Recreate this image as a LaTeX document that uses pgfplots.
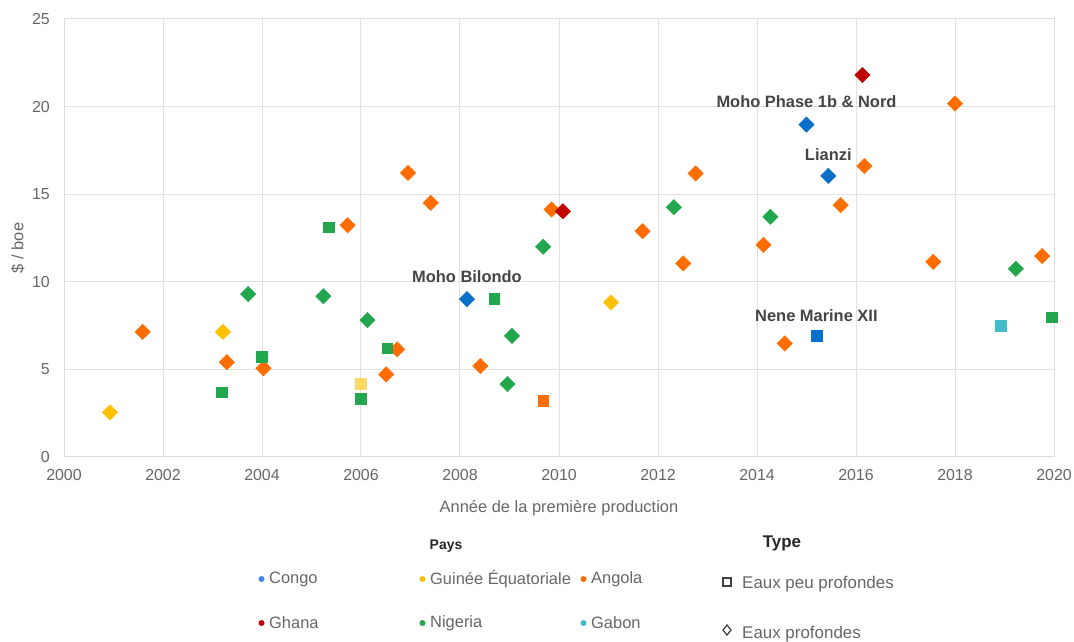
\documentclass[border=0pt]{standalone}
\usepackage{fontspec}
\setmainfont{Liberation Sans}
\usepackage{pgfplots}
\pgfplotsset{compat=1.18}

\definecolor{congo}{HTML}{0A6FC8}
\definecolor{congoL}{HTML}{4285F4}
\definecolor{guinee}{HTML}{FFC000}
\definecolor{guineeL}{HTML}{FFD966}
\definecolor{angola}{HTML}{FF6D01}
\definecolor{ghana}{HTML}{C00000}
\definecolor{nigeria}{HTML}{22A64E}
\definecolor{gabon}{HTML}{3FBCC9}
\definecolor{gridgray}{HTML}{E2E2E2}
\definecolor{txtgray}{HTML}{666666}
\definecolor{lblgray}{HTML}{444444}

\pgfplotsset{
  dia/.style={only marks, color=#1, mark=square*, mark size=5.4bp,
    mark options={rotate=45, fill=#1, draw=#1, line width=0.5bp}},
  sq/.style={only marks, color=#1, mark=square*, mark size=5.4bp,
    mark options={fill=#1, draw=#1, line width=0.5bp}},
}

\begin{document}
\begin{tikzpicture}
\path[use as bounding box] (0,0) rectangle (1074bp,642bp);

\begin{axis}[
    at={(64bp,185.3bp)}, anchor=south west,
    scale only axis,
    width=990bp, height=437.7bp,
    xmin=2000, xmax=2020, ymin=0, ymax=25,
    xtick={2000,2002,...,2020},
    ytick={0,5,...,25},
    grid=major,
    grid style={draw=gridgray, line width=1bp},
    axis line style={draw=gridgray!120, line width=1bp},
    major tick length=0pt,
    clip=false,
    ticklabel style={font=\fontsize{16}{19}\selectfont, text=txtgray,
      /pgf/number format/assume math mode=true,
      /pgf/number format/1000 sep={}},
    xticklabel style={anchor=north, inner sep=0pt, yshift=-12.6bp},
    yticklabel style={anchor=east, inner sep=0pt, xshift=-14bp},
    xlabel={Année de la première production},
    xlabel style={at={(axis description cs:0.5,0)}, anchor=center,
      yshift=-51.6bp, font=\fontsize{16.5}{19}\selectfont, text=txtgray},
    ylabel={\$ / boe},
    ylabel style={at={(axis description cs:-0.0465,0.477)}, anchor=center,
      font=\fontsize{16.5}{19}\selectfont, text=txtgray},
]
% Angola - eaux profondes
\addplot[dia=angola] coordinates {
 (2001.59,7.13) (2003.29,5.40) (2004.03,5.05) (2005.73,13.22) (2006.51,4.70)
 (2006.73,6.13) (2006.95,16.21) (2007.41,14.50) (2008.41,5.18) (2009.85,14.12)
 (2011.69,12.88) (2012.51,11.04) (2012.76,16.18) (2014.13,12.10) (2014.56,6.47)
 (2015.69,14.37) (2016.17,16.60) (2017.56,11.13) (2018.00,20.17) (2019.76,11.46)
};
% Angola - eaux peu profondes
\addplot[sq=angola] coordinates {(2009.68,3.20)};
% Nigeria
\addplot[dia=nigeria] coordinates {
 (2003.72,9.29) (2005.24,9.17) (2006.13,7.80) (2008.96,4.15) (2009.05,6.90)
 (2009.68,11.99) (2012.32,14.25) (2014.27,13.70) (2019.23,10.73)
};
\addplot[sq=nigeria] coordinates {
 (2003.19,3.68) (2004.00,5.71) (2005.35,13.11) (2006.00,3.33) (2006.53,6.19)
 (2008.69,9.00) (2019.96,7.97)
};
% Guinee Equatoriale
\addplot[dia=guinee] coordinates {(2000.93,2.53) (2003.21,7.13) (2011.05,8.81)};
\addplot[sq=guineeL] coordinates {(2006.00,4.17)};
% Ghana
\addplot[dia=ghana] coordinates {(2010.08,14.02) (2016.13,21.80)};
% Gabon
\addplot[sq=gabon] coordinates {(2018.93,7.50)};
% Congo
\addplot[dia=congo] coordinates {(2008.14,9.00) (2015.00,18.97) (2015.44,16.04)};
\addplot[sq=congo] coordinates {(2015.20,6.89)};

% field names
\begin{scope}[every node/.style={font=\bfseries\fontsize{16.5}{19}\selectfont, text=lblgray, inner sep=0pt}]
\node[yshift=22.5bp] at (axis cs:2008.14,9.00) {Moho Bilondo};
\node[yshift=22.5bp] at (axis cs:2015.00,18.97) {Moho Phase 1b \& Nord};
\node[yshift=21.7bp] at (axis cs:2015.44,16.04) {Lianzi};
\node[yshift=20.5bp] at (axis cs:2015.20,6.89) {Nene Marine XII};
\end{scope}
\end{axis}

% legend: Pays
\node[font=\bfseries\fontsize{14}{16}\selectfont, text=black!85] at (446bp,96bp) {Pays};
\begin{scope}[every node/.style={anchor=west, inner sep=0pt, font=\fontsize{16.5}{19}\selectfont, text=txtgray}]
\fill[congoL]  (261.5bp,63bp) circle (3bp);  \node at (269bp,63bp) {Congo};
\fill[guinee]  (422.5bp,63bp) circle (3bp);  \node at (430bp,63bp) {Guinée Équatoriale};
\fill[angola]  (583.5bp,63bp) circle (3bp);  \node at (591bp,63bp) {Angola};
\fill[ghana]   (261.5bp,19bp) circle (3bp);  \node at (269bp,19bp) {Ghana};
\fill[nigeria] (422.5bp,19bp) circle (3bp);  \node at (430bp,19bp) {Nigeria};
\fill[gabon]   (583.5bp,19bp) circle (3bp);  \node at (591bp,19bp) {Gabon};
\end{scope}

% legend: Type
\node[font=\bfseries\fontsize{17}{19}\selectfont, text=black!85] at (782bp,99bp) {Type};
\draw[black!75, line width=1.2bp] (723bp,56bp) rectangle (731bp,64bp);
\draw[black!75, line width=1.2bp] (727bp,17bp) -- (731bp,12bp) -- (727bp,7bp) -- (723bp,12bp) -- cycle;
\begin{scope}[every node/.style={anchor=west, inner sep=0pt, font=\fontsize{17}{19}\selectfont, text=txtgray}]
\node at (742bp,58bp) {Eaux peu profondes};
\node at (742bp,8bp) {Eaux profondes};
\end{scope}
\end{tikzpicture}
\end{document}
